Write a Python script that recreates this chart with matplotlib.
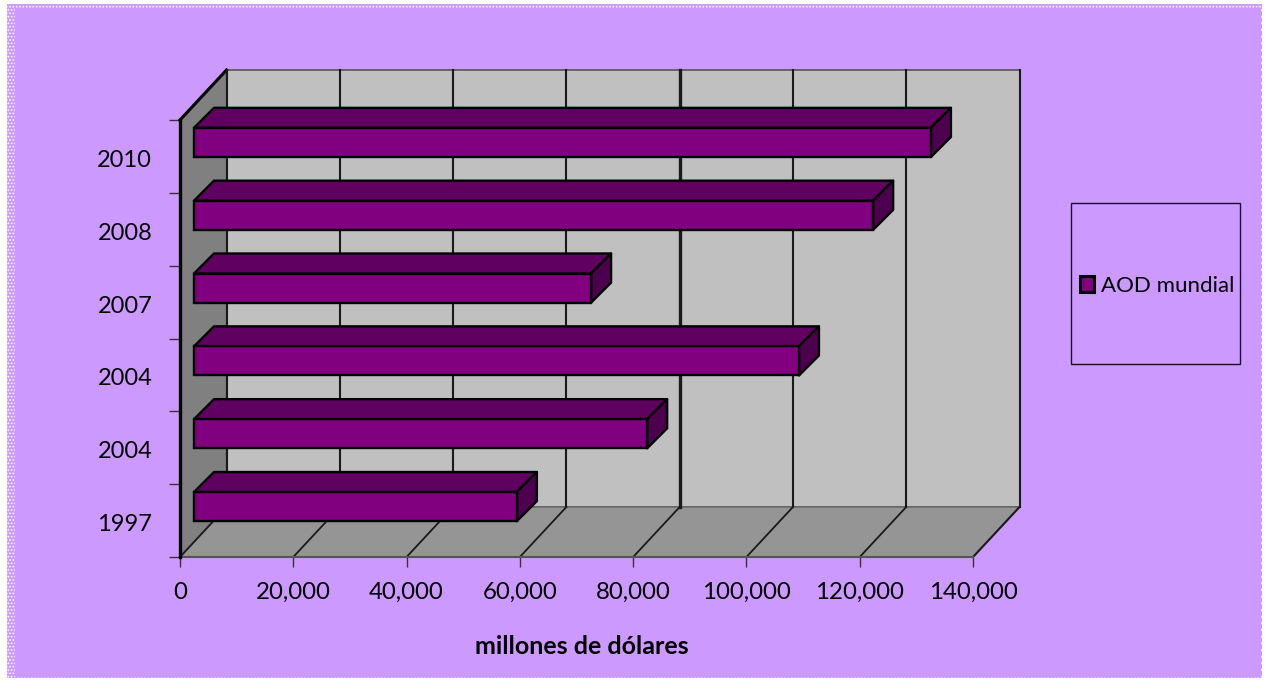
import matplotlib
matplotlib.use('Agg')
import matplotlib.pyplot as plt
from matplotlib.patches import Polygon, Rectangle, Patch
from matplotlib.transforms import Affine2D

plt.rcParams['font.family'] = ['Lato', 'DejaVu Sans']
plt.rcParams['hatch.linewidth'] = 0.8

years = ['1997', '2004', '2004', '2007', '2008', '2010']
values = [57000, 80000, 106800, 70100, 119900, 130100]
x_ticks = [0, 20000, 40000, 60000, 80000, 100000, 120000, 140000]
x_tick_labels = ['0', '20,000', '40,000', '60,000', '80,000', '100,000', '120,000', '140,000']
x_title = 'millones de dólares'
legend_label = 'AOD mundial'

W, H = 1265, 681
xmax = 140000
ymax = len(years)
wall_dx, wall_dy = 46.5, 50
bar_off = 14
bar_depth = 20
bar_h = 0.4

fig = plt.figure(figsize=(W / 100, H / 100), dpi=100, facecolor='white')


def frame(x0, y0, x1, y1, **kw):
    # rectangle given in picture pixels, y going down
    r = Rectangle((x0 / W, 1 - y1 / H), (x1 - x0) / W, (y1 - y0) / H,
                  transform=fig.transFigure, **kw)
    fig.add_artist(r)
    return r


frame(7, 4, 1262, 678, facecolor='#cc99ff', edgecolor='white', hatch='.....', lw=0, zorder=-3)
frame(15, 8, 1261, 677, facecolor='#cc99ff', edgecolor='none', zorder=-2)
frame(1071, 203, 1240, 364, facecolor='none', edgecolor='#1a0a2a', lw=1, zorder=-1)

ax = fig.add_axes([180 / W, 1 - 557 / H, 793 / W, 437 / H])
ax.set_facecolor('none')
ax.set_xlim(0, xmax)
ax.set_ylim(0, ymax)


def shifted(ox, oy):
    # screen offset in pixels for the depth of the fake 3d box
    return ax.transData + Affine2D().translate(ox, oy)


def box(xs, ys, ox=0, oy=0, **kw):
    p = Polygon(list(zip(xs, ys)), closed=True, clip_on=False,
                transform=shifted(ox, oy), **kw)
    ax.add_patch(p)


px_x = xmax / 793
px_y = ymax / 437
dx = wall_dx * px_x
dy = wall_dy * px_y

# walls and floor
box([0, xmax, xmax, 0], [0, 0, ymax, ymax], wall_dx, wall_dy,
    facecolor='#c0c0c0', edgecolor='#555555', lw=1.2, zorder=1)
box([0, dx, dx, 0], [0, dy, ymax + dy, ymax],
    facecolor='#808080', edgecolor='#666666', lw=1, zorder=1)
box([0, xmax, xmax + dx, dx], [0, 0, dy, dy],
    facecolor='#959595', edgecolor='#666666', lw=1, zorder=1)
ax.plot([0, dx], [ymax, ymax + dy], color='black', lw=2.2, clip_on=False, zorder=2)
ax.plot([xmax, xmax + dx], [0, dy], color='#555555', lw=1.5, clip_on=False, zorder=2)

# gridlines on back wall and floor
for t in x_ticks:
    lw = 2.4 if t == 80000 else 1.5
    ax.plot([t + dx, t + dx], [dy, ymax + dy], color='#1a1a1a', lw=lw, clip_on=False, zorder=2)
    ax.plot([t, t + dx], [0, dy], color='#1a1a1a', lw=1.3, clip_on=False, zorder=2)

# bars
for i, v in enumerate(values):
    y0 = i + 0.5 - bar_h / 2
    y1 = i + 0.5 + bar_h / 2
    d_x = bar_depth * px_x
    d_y = bar_depth * px_y
    style = dict(edgecolor='black', lw=1.7, joinstyle='round', zorder=4)
    box([0, v, v + d_x, d_x], [y1, y1, y1 + d_y, y1 + d_y], bar_off, bar_off,
        facecolor='#600060', **style)
    box([v, v + d_x, v + d_x, v], [y0, y0 + d_y, y1 + d_y, y1], bar_off, bar_off,
        facecolor='#4d004d', **style)
    ax.barh(i + 0.5, v, height=bar_h, color='#800080', edgecolor='black', lw=1.7,
            transform=shifted(bar_off, bar_off), clip_on=False, zorder=5)

for s in ['top', 'right']:
    ax.spines[s].set_visible(False)
ax.spines['left'].set_linewidth(2.4)
ax.spines['left'].set_color('black')
ax.spines['left'].set_zorder(3)
ax.spines['bottom'].set_linewidth(1.5)
ax.spines['bottom'].set_color('#555555')

ax.set_xticks(x_ticks)
ax.set_xticklabels(x_tick_labels, fontsize=17.3)
ax.tick_params(axis='x', length=7, width=1, color='#333333', pad=11)
ax.set_yticks(range(ymax + 1))
ax.set_yticklabels([])
ax.set_yticks([i + 0.5 for i in range(ymax)], minor=True)
ax.set_yticklabels(years, minor=True, fontsize=17)
ax.tick_params(axis='y', which='major', length=8, width=1, color='#333333')
ax.tick_params(axis='y', which='minor', length=0, pad=20)
for lab in ax.get_yticklabels(minor=True):
    lab.set_transform(lab.get_transform() + Affine2D().translate(0, -2))

fig.text(582 / W, 1 - 646 / H, x_title, fontsize=18, fontweight='bold',
         ha='center', va='center')

handle = Patch(facecolor='#800080', edgecolor='black', lw=2.2)
ax.legend(handles=[handle], labels=[legend_label], frameon=False, fontsize=16,
          loc='center', bbox_to_anchor=(1157 / W, 1 - 286 / H),
          bbox_transform=fig.transFigure, handlelength=0.65, handleheight=0.7,
          handletextpad=0.3, borderpad=0, borderaxespad=0)

fig.savefig('out.png', dpi=100)
